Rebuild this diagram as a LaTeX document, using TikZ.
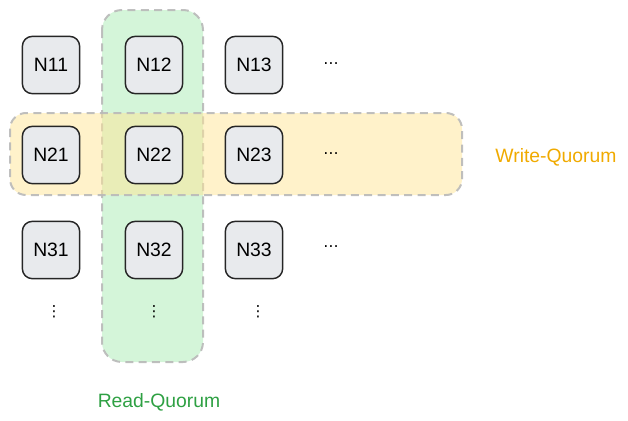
\documentclass[tikz,border=0pt]{standalone}
\usepackage{fontspec}
\setmainfont{Liberation Sans}
\newfontfamily\dotsfont{DejaVu Sans}

\definecolor{readcolor}{RGB}{46,160,67}
\definecolor{writecolor}{RGB}{240,170,0}
\definecolor{serverfill}{RGB}{232,234,237}
\definecolor{quorumline}{RGB}{185,185,185}
\definecolor{readfill}{RGB}{170,235,180}
\definecolor{writefill}{RGB}{255,230,150}

\tikzset{
  server/.style={draw=black!85, line width=1.1pt, fill=serverfill, rounded corners=7.5pt,
    minimum size=43pt, inner sep=0pt, font=\fontsize{14.5}{16}\selectfont},
  quorum/.style={draw=quorumline, line width=1.5pt, dash pattern=on 6pt off 4pt,
    fill opacity=0.5, draw opacity=0.9},
  dotslabel/.style={inner sep=0pt, font=\dotsfont\fontsize{11.5}{13}\selectfont},
  quorumlabel/.style={font=\fontsize{14.5}{17}\selectfont}
}

\begin{document}
\begin{tikzpicture}[x=0.75pt,y=-0.75pt]
  \useasboundingbox (0,0) rectangle (628,421);

  % Draw the read quorum (one column)
  \draw[quorum, fill=readfill, rounded corners=15pt] (102,10) rectangle (203,362);
  \node[quorumlabel, text=readcolor] (readlabel) at (159,402) {Read-Quorum};

  % Draw the write quorum (one row)
  \draw[quorum, fill=writefill, rounded corners=12pt] (10,113) rectangle (462,195);
  \node[quorumlabel, text=writecolor] (writelabel) at (556,157) {Write-Quorum};

  % First row of servers
  \node[server] (n11) at (51,65) {N11};
  \node[server] (n12) at (154,65) {N12};
  \node[server] (n13) at (254,65) {N13};
  \node[dotslabel] (dots1) at (331,64) {…};

  % Second row of servers
  \node[server] (n21) at (51,155) {N21};
  \node[server] (n22) at (154,155) {N22};
  \node[server] (n23) at (254,155) {N23};
  \node[dotslabel] (dots2) at (331,154) {…};

  % Third row of servers
  \node[server] (n31) at (51,250) {N31};
  \node[server] (n32) at (154,250) {N32};
  \node[server] (n33) at (254,250) {N33};
  \node[dotslabel] (dots3) at (331,247) {…};

  % More rows below
  \node[dotslabel] (vdots1) at (54,312) {⋮};
  \node[dotslabel] (vdots2) at (154,312) {⋮};
  \node[dotslabel] (vdots3) at (258,312) {⋮};

\end{tikzpicture}
\end{document}
